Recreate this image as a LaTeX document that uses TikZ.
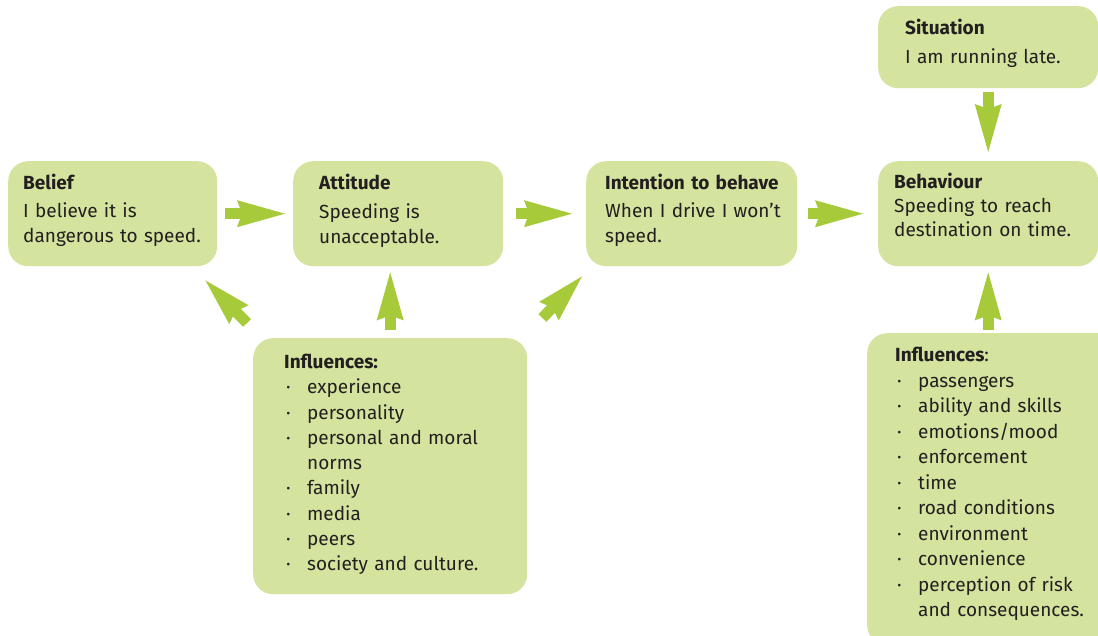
\documentclass[tikz,border=0pt]{standalone}
\usepackage{fontspec}
\setmainfont{Fira Sans}
\usetikzlibrary{arrows.meta,calc}

\definecolor{boxgreen}{HTML}{D4E39E}
\definecolor{arrowgreen}{HTML}{A6CA3A}
\definecolor{ink}{HTML}{231F20}

\newcommand{\bul}{\makebox[23pt][l]{\hspace{2pt}·}}
\newcommand{\cont}{\hspace*{23pt}}

\begin{document}
\begin{tikzpicture}[x=1pt,y=-1pt]
  \useasboundingbox (0,0) rectangle (1098,635);
  \clip (0,0) rectangle (1098,635);
  \begin{scope}[
    every node/.style={fill=boxgreen,rounded corners=20pt,anchor=north west,
      inner ysep=0pt,align=left,text=ink,
      font=\fontsize{19}{25}\selectfont},
    ]
    \node[inner xsep=15pt,text width=179pt,text height=28.5pt,text depth=76.5pt]
      (belief) at (8,161) {\textbf{Belief}\\[3pt]I believe it is\\dangerous to speed.};
    \node[inner xsep=26pt,text width=158pt,text height=28.5pt,text depth=76.5pt]
      (attitude) at (293,161) {\textbf{Attitude}\\[4pt]Speeding is\\unacceptable.};
    \node[inner xsep=19pt,text width=173pt,text height=28.5pt,text depth=76.5pt]
      (intent) at (586,161)
      {\mbox{\textbf{Intention to behave}}\\[3pt]\mbox{When I drive I won’t}\\speed.};
    \node[inner xsep=16pt,text width=188pt,text height=27.5pt,text depth=77.5pt,
      font=\fontsize{19}{24}\selectfont]
      (behav) at (878,161) {\textbf{Behaviour}\\Speeding to reach\\destination on time.};
    \node[inner xsep=27pt,text width=166pt,text height=28.5pt,text depth=53.5pt]
      (situ) at (878,6) {\textbf{Situation}\\[4pt]I am running late.};
    \node[inner xsep=31pt,text width=212pt,text height=30.5pt,text depth=225.5pt,
      font=\fontsize{19}{25.25}\selectfont]
      (infl l) at (253,338) {\textbf{Influences:}\\
        \bul experience\\
        \bul personality\\
        \bul personal and moral\\
        \cont norms\\
        \bul family\\
        \bul media\\
        \bul peers\\
        \bul society and culture.};
    \node[inner xsep=28pt,text width=200pt,text height=28.5pt,text depth=283.5pt,
      font=\fontsize{19}{25.5}\selectfont]
      (infl r) at (867,333) {\textbf{Influences}:\\
        \bul passengers\\
        \bul ability and skills\\
        \bul emotions/mood\\
        \bul enforcement\\
        \bul time\\
        \bul road conditions\\
        \bul environment\\
        \bul convenience\\
        \bul perception of risk\\
        \cont and consequences.};
  \end{scope}
  \begin{scope}[
    every path/.style={draw=arrowgreen,line width=11pt,
      -{Stealth[length=48pt,width=27pt,inset=5pt,line width=0pt,fill=arrowgreen]}},
    ]
    \path[shorten <=8pt,shorten >=8pt] (belief.east) -- (attitude.west);
    \path[shorten <=13pt,shorten >=14pt] (attitude.east) -- (intent.west);
    \path[shorten <=11pt,shorten >=15pt] (intent.east) -- (behav.west);
    \path[shorten <=4pt,shorten >=9pt] (situ.south) -- (behav.north);
    \path[shorten <=3pt,shorten >=6pt] (infl r.north -| behav.south) -- (behav.south);
    \path[shorten <=8pt,shorten >=6pt] (infl l.north) -- (infl l.north |- attitude.south);
    \path[shorten <=21pt,shorten >=19.6pt]
      ($(infl l.north west)+(8.7,0)$) -- ($(belief.south east)+(-25.7,0)$);
    \path[shorten <=27.6pt,shorten >=13.8pt]
      ($(infl l.north east)+(-4,0)$) -- ($(intent.south west)+(5.5,0)$);
  \end{scope}
\end{tikzpicture}
\end{document}
